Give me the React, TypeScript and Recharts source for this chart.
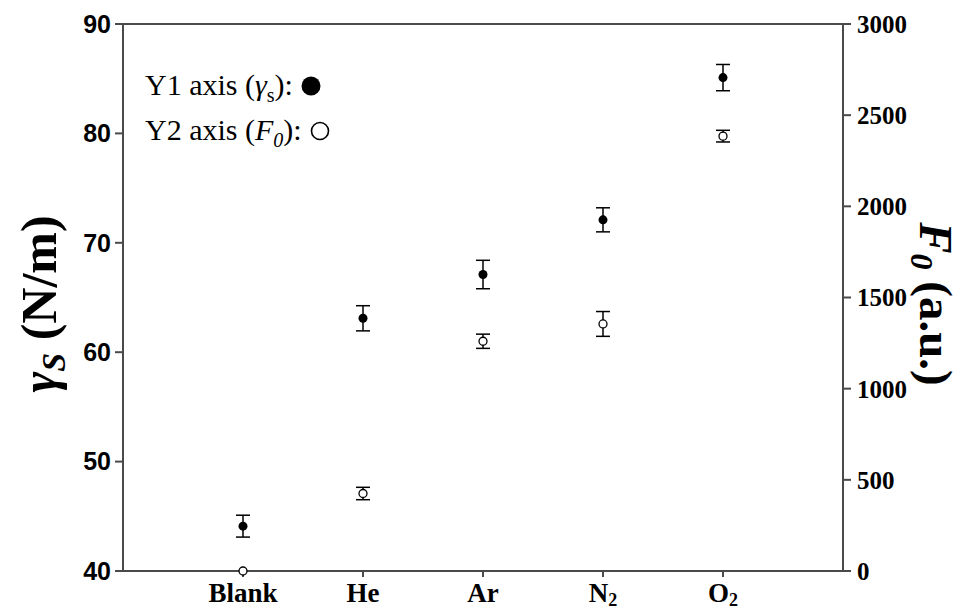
import React from 'react';
import { ScatterChart, Scatter, XAxis, YAxis, ErrorBar, ReferenceLine } from 'recharts';

const categories = ['Blank', 'He', 'Ar', 'N2', 'O2'];
const positions = [1, 2, 3, 4, 5];
const gammaS = [44.1, 63.1, 67.1, 72.1, 85.1];
const gammaErr = [1.0, 1.15, 1.3, 1.1, 1.2];
const f0 = [0, 425, 1260, 1355, 2385];
const f0Err = [0, 34, 39, 68, 32];
const leftTicks = [40, 50, 60, 70, 80, 90];
const rightTicks = [0, 500, 1000, 1500, 2000, 2500, 3000];

const gammaData = positions.map((x, i) => ({ x, y: gammaS[i], err: gammaErr[i] }));
const f0Data = positions.map((x, i) => ({ x, y: f0[i], err: f0Err[i] }));

const AXIS = '#4a4a4a';
const SERIF = '"Liberation Serif", "Times New Roman", serif';
const SANS = '"Liberation Sans", Arial, sans-serif';

const XTick = (props: any) => {
  const { x, y, payload } = props;
  const label = categories[payload.value - 1] || '';
  const m = label.match(/^([A-Za-z]+)(\d*)$/) || ['', label, ''];
  return (
    <text x={x} y={y} dy={23} textAnchor="middle" fontFamily={SERIF} fontWeight="bold" fontSize={27} fill="#000">
      <tspan>{m[1]}</tspan>
      {m[2] ? <tspan dy={4} fontSize={18}>{m[2]}</tspan> : null}
    </text>
  );
};

const FilledDot = (p: any) => <circle cx={p.cx} cy={p.cy} r={4.5} fill="#000" />;
const OpenDot = (p: any) => <circle cx={p.cx} cy={p.cy} r={4} fill="#fff" stroke="#000" strokeWidth={1.3} />;

const LeftTitle = () => (
  <text x={56} y={304} transform="rotate(-90 56 304)" textAnchor="middle" fontFamily={SERIF} fontWeight="bold" fontSize={50} fill="#000">
    <tspan fontStyle="italic">γ</tspan>
    <tspan fontStyle="italic" fontSize={34} dy={9}>S</tspan>
    <tspan dy={-9}> (N/m)</tspan>
  </text>
);

const RightTitle = () => (
  <text x={920} y={304} transform="rotate(90 920 304)" textAnchor="middle" fontFamily={SERIF} fontWeight="bold" fontSize={47} fill="#000">
    <tspan fontStyle="italic">F</tspan>
    <tspan fontStyle="italic" fontSize={32} dy={9}>0</tspan>
    <tspan dy={-9}> (a.u.)</tspan>
  </text>
);

export default function App() {
  return (
    <div style={{ position: 'absolute', left: 0, top: 0, width: 964, height: 610, background: '#fff', overflow: 'hidden' }}>
      <ScatterChart width={964} height={610} margin={{ top: 24, right: 61, bottom: 9, left: 63 }}>
        <XAxis
          type="number"
          dataKey="x"
          domain={[0, 6]}
          ticks={positions}
          tick={<XTick />}
          tickSize={6}
          height={30}
          stroke={AXIS}
          strokeWidth={2}
          allowDataOverflow
        />
        <YAxis
          yAxisId="left"
          type="number"
          dataKey="y"
          domain={[40, 90]}
          ticks={leftTicks}
          tickSize={8}
          tickMargin={4}
          width={60}
          stroke={AXIS}
          strokeWidth={2}
          tick={{ fontFamily: SANS, fontWeight: 'bold', fontSize: 25, fill: '#000' }}
          label={{ content: () => <LeftTitle /> }}
        />
        <YAxis
          yAxisId="right"
          orientation="right"
          type="number"
          dataKey="y"
          domain={[0, 3000]}
          ticks={rightTicks}
          tickSize={8}
          tickMargin={6}
          width={60}
          stroke={AXIS}
          strokeWidth={2}
          tick={{ fontFamily: SERIF, fontWeight: 'bold', fontSize: 25, fill: '#000' }}
          label={{ content: () => <RightTitle /> }}
        />
        <ReferenceLine yAxisId="left" y={90} stroke={AXIS} strokeWidth={2} />
        <Scatter yAxisId="right" data={f0Data} dataKey="y" shape={<OpenDot />} isAnimationActive={false}>
          <ErrorBar dataKey="err" direction="y" width={7} stroke="#000" strokeWidth={1.5} />
        </Scatter>
        <Scatter yAxisId="left" data={gammaData} dataKey="y" shape={<FilledDot />} isAnimationActive={false}>
          <ErrorBar dataKey="err" direction="y" width={7} stroke="#000" strokeWidth={1.5} />
        </Scatter>
      </ScatterChart>
      <div style={{ position: 'absolute', left: 145, top: 62, fontFamily: SERIF, fontSize: 30, color: '#000', lineHeight: '45px', whiteSpace: 'nowrap' }}>
        <div>
          Y1 axis (<i>γ</i><sub style={{ fontSize: 20, lineHeight: 0 }}>s</sub>):{' '}
          <svg width={22} height={22} style={{ verticalAlign: '-2px' }}>
            <circle cx={11} cy={11} r={9.5} fill="#000" />
          </svg>
        </div>
        <div>
          Y2 axis (<i>F<sub style={{ fontSize: 20, lineHeight: 0 }}>0</sub></i>):{' '}
          <svg width={22} height={22} style={{ verticalAlign: '-2px' }}>
            <circle cx={11} cy={11} r={8.5} fill="#fff" stroke="#000" strokeWidth={1.6} />
          </svg>
        </div>
      </div>
    </div>
  );
}
